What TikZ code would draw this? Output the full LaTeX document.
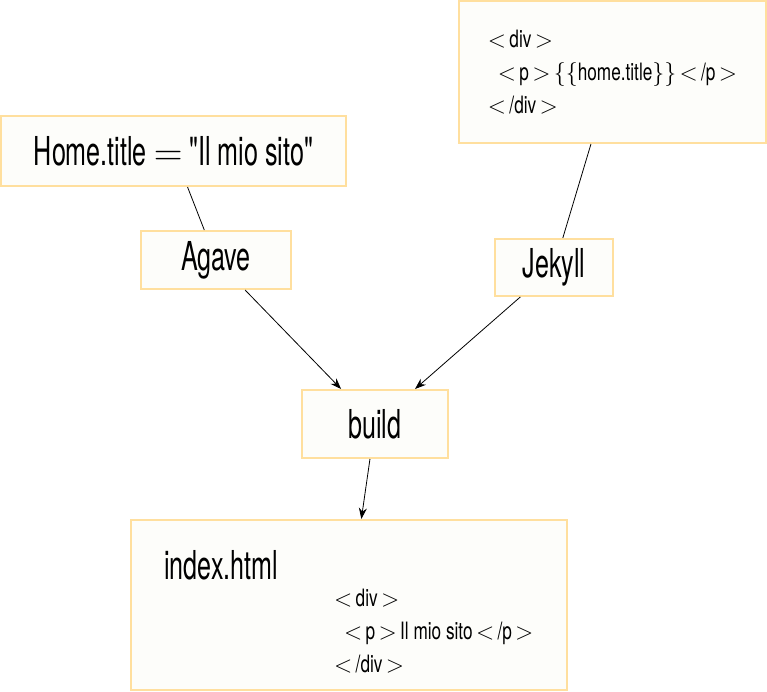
\RequirePackage{fix-cm}
\documentclass[tikz,border=0pt]{standalone}
\usepackage{fontspec}
\setmainfont[FakeStretch=0.63,Ligatures=TeXOff]{TeX Gyre Heros}
\newfontfamily\codefont[FakeStretch=0.72,Ligatures=TeXOff]{TeX Gyre Heros}
\usetikzlibrary{arrows.meta,positioning}
\definecolor{boxline}{HTML}{FFDF9E}
\definecolor{boxfill}{HTML}{FDFDFA}
\newcommand\codeline[1]{\ensuremath{\thickmuskip=2.5mu #1}}
\begin{document}
\begin{tikzpicture}[x=1bp,y=-1bp,
  box/.style={draw=boxline,fill=boxfill,line width=2bp,inner sep=0pt,font=\fontsize{40}{48}\selectfont},
  codetext/.style={align=left,inner sep=0pt,font=\codefont\fontsize{24}{33}\selectfont},
  link/.style={draw=black,line width=0.8bp},
  flow/.style={link,-{Stealth[length=11bp,width=8bp]}}]
\useasboundingbox (0,0) rectangle (767,692);
% nodes
\node[box,minimum width=345bp,minimum height=70bp] (home) at (173.5,151) {Home.title $=$ "Il mio sito"};
\node[box,minimum width=150bp,minimum height=58bp] (agave) at (216,260) {Agave};
\node[box,codetext,minimum width=307bp,minimum height=142bp] (tpl) at (612.5,72)
  {\codeline{<\hbox{div}>}\\
   \hspace*{10bp}\codeline{<\hbox{p}>\{\{\hbox{home.title}\}\}<\hbox{/p}>}\\
   \codeline{<\hbox{/div}>}};
\node[box,minimum width=118bp,minimum height=57bp] (jekyll) at (554,267.5) {Jekyll};
\node[box,minimum width=146bp,minimum height=68bp] (build) at (375,424) {build};
\node[box,minimum width=436bp,minimum height=170bp] (index) at (349,605) {};
\node[anchor=base west,inner sep=0pt,font=\fontsize{40}{48}\selectfont] (indexname)
  at ([shift={(34,-26)}]index.west) {index.html};
\node[codetext,anchor=west] (indexcode) at ([shift={(204,26)}]index.west)
  {\codeline{<\hbox{div}>}\\
   \hspace*{10bp}\codeline{<\hbox{p}>\hbox{Il mio sito}<\hbox{/p}>}\\
   \codeline{<\hbox{/div}>}};
% connectors
\draw[link] (home) -- (agave);
\draw[link] (tpl) -- (jekyll);
\draw[flow] (agave) -- (build);
\draw[flow] (jekyll) -- (build);
\draw[flow] (build) -- (index);
\end{tikzpicture}
\end{document}
